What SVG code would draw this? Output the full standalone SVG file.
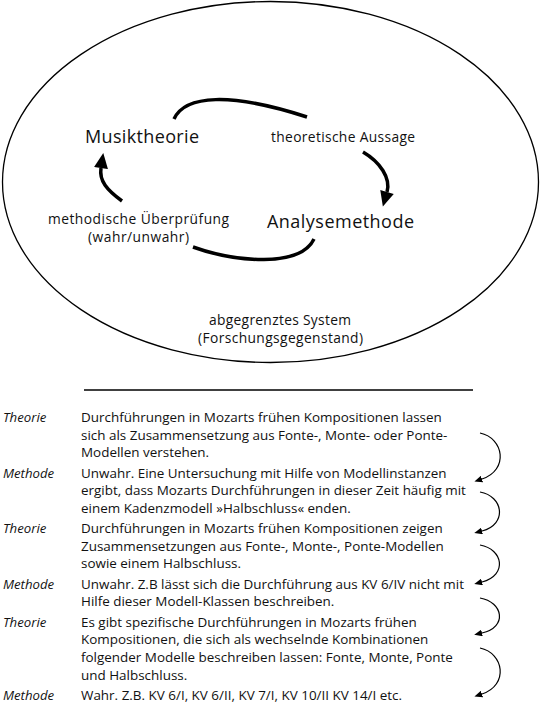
<svg xmlns="http://www.w3.org/2000/svg" width="540" height="706" viewBox="0 0 540 706">
<style>
text{font-family:"Open Sans","Noto Sans","DejaVu Sans",sans-serif;fill:#111}
.big{font-size:18px}
.mid{font-size:13.8px}
.body{font-size:13.45px}
.lab{font-size:13.2px;font-style:italic}
.thick{fill:none;stroke:#000;stroke-width:3.5}
.thin{fill:none;stroke:#000;stroke-width:1.2}
</style>
<defs>
<marker id="headBig" markerUnits="userSpaceOnUse" markerWidth="16" markerHeight="14" refX="0" refY="6.5" orient="auto" viewBox="0 0 14 13">
<path d="M0,0 L14,6.5 L0,13 z" fill="#000"/>
</marker>
<marker id="headSmall" markerUnits="userSpaceOnUse" markerWidth="8" markerHeight="7" refX="0" refY="3" orient="auto" viewBox="0 0 7 6">
<path d="M0,0 L7,3 L0,6 z" fill="#000"/>
</marker>
</defs>
<rect width="540" height="706" fill="#fff"/>
<g id="system">
<ellipse cx="270.5" cy="182" rx="268" ry="180.5" fill="none" stroke="#000" stroke-width="1.3"/>
<text class="mid" x="209" y="325" textLength="142">abgegrenztes System</text>
<text class="mid" x="198" y="343" textLength="165">(Forschungsgegenstand)</text>
</g>
<g id="musiktheorie"><text class="big" x="85" y="143" textLength="114">Musiktheorie</text></g>
<g id="analysemethode"><text class="big" x="267" y="228" textLength="147">Analysemethode</text></g>
<g id="label-aussage"><text class="mid" x="271" y="142" textLength="144">theoretische Aussage</text></g>
<g id="label-pruefung">
<text class="mid" x="48" y="224" textLength="181">methodische Überprüfung</text>
<text class="mid" x="88" y="242" textLength="101">(wahr/unwahr)</text>
</g>
<g id="connectors">
<path class="thick" d="M174,119 C185,95 230,92 307,117"/>
<path class="thick" d="M363,152 C380,162 391,178 387,192" marker-end="url(#headBig)"/>
<path class="thick" d="M193,247 C235,262 300,268 314,239"/>
<path class="thick" d="M122,201 C107,190 99,181 101,168" marker-end="url(#headBig)"/>
<path class="thin" d="M480,433 C504,438 509,470 482,479" marker-end="url(#headSmall)"/>
<path class="thin" d="M480,492 C503,496 508,524 482,531" marker-end="url(#headSmall)"/>
<path class="thin" d="M480,545 C503,549 508,575 482,582" marker-end="url(#headSmall)"/>
<path class="thin" d="M480,598 C503,602 508,627 482,633" marker-end="url(#headSmall)"/>
<path class="thin" d="M480,648 C504,653 509,685 482,694" marker-end="url(#headSmall)"/>
</g>
<line x1="84" y1="390" x2="473" y2="390" stroke="#000" stroke-width="1.3"/>
<g id="labels">
<text class="lab" x="3" y="422">Theorie</text>
<text class="lab" x="3" y="477.6">Methode</text>
<text class="lab" x="3" y="533.2">Theorie</text>
<text class="lab" x="3" y="588.8">Methode</text>
<text class="lab" x="3" y="626.8">Theorie</text>
<text class="lab" x="3" y="700">Methode</text>
</g>
<g id="statements">
<text class="body" x="81" y="422">Durchführungen in Mozarts frühen Kompositionen lassen</text>
<text class="body" x="81" y="439.6">sich als Zusammensetzung aus Fonte-, Monte- oder Ponte-</text>
<text class="body" x="81" y="457.2">Modellen verstehen.</text>
<text class="body" x="81" y="477.6">Unwahr. Eine Untersuchung mit Hilfe von Modellinstanzen</text>
<text class="body" x="81" y="495.2">ergibt, dass Mozarts Durchführungen in dieser Zeit häufig mit</text>
<text class="body" x="81" y="512.8">einem Kadenzmodell »Halbschluss« enden.</text>
<text class="body" x="81" y="533.2">Durchführungen in Mozarts frühen Kompositionen zeigen</text>
<text class="body" x="81" y="550.8">Zusammensetzungen aus Fonte-, Monte-, Ponte-Modellen</text>
<text class="body" x="81" y="568.4">sowie einem Halbschluss.</text>
<text class="body" x="81" y="588.8">Unwahr. Z.B lässt sich die Durchführung aus KV 6/IV nicht mit</text>
<text class="body" x="81" y="606.4">Hilfe dieser Modell-Klassen beschreiben.</text>
<text class="body" x="81" y="626.8">Es gibt spezifische Durchführungen in Mozarts frühen</text>
<text class="body" x="81" y="644.4">Kompositionen, die sich als wechselnde Kombinationen</text>
<text class="body" x="81" y="662">folgender Modelle beschreiben lassen: Fonte, Monte, Ponte</text>
<text class="body" x="81" y="679.6">und Halbschluss.</text>
<text class="body" x="81" y="700">Wahr. Z.B. KV 6/I, KV 6/II, KV 7/I, KV 10/II KV 14/I etc.</text>
</g>
</svg>
